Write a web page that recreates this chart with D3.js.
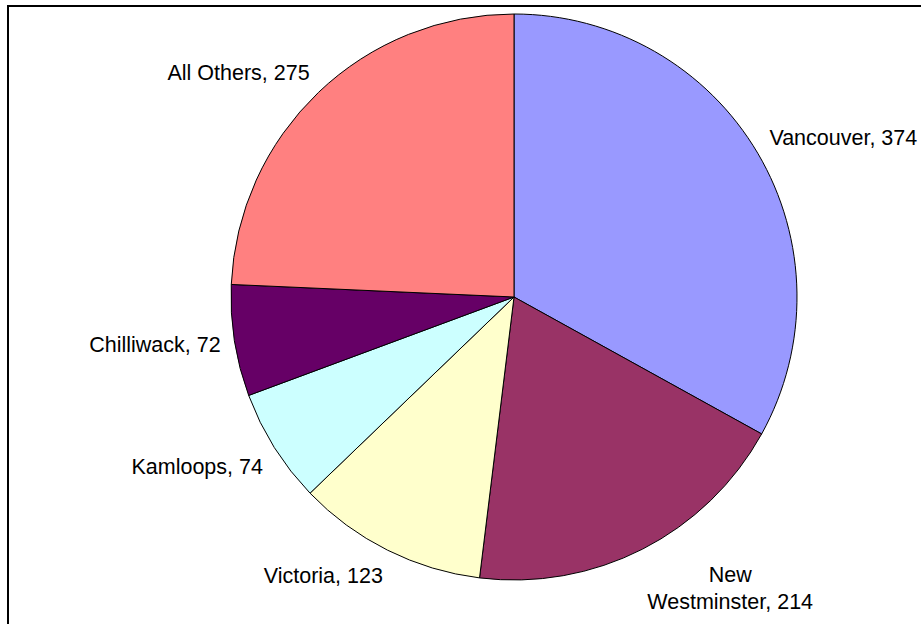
<!DOCTYPE html>
<html>
<head>
<meta charset="utf-8">
<script src="https://cdn.jsdelivr.net/npm/d3@7"></script>
<style>
  html, body { margin: 0; padding: 0; background: #fff; }
  svg { display: block; }
</style>
</head>
<body>
<script>
const categories = ["Vancouver", "New Westminster", "Victoria", "Kamloops", "Chilliwack", "All Others"];
const values = [374, 214, 123, 74, 72, 275];
const colors = ["#9999FF", "#993366", "#FFFFCC", "#CCFFFF", "#660066", "#FF8080"];

const W = 921, H = 624;
const cx = 514, cy = 297, radius = 283, labelRadius = 300;
const fontSize = 21.5, lineHeight = 27.7, wrapWidth = 160;

const svg = d3.select("body").append("svg").attr("width", W).attr("height", H);

// outer frame (extends beyond the right and bottom edges)
svg.append("rect")
  .attr("x", 8).attr("y", 6).attr("width", W).attr("height", H)
  .attr("fill", "none").attr("stroke", "#000").attr("stroke-width", 2);

const data = categories.map((c, i) => ({ name: c, value: values[i], color: colors[i] }));
const pie = d3.pie().value(d => d.value).sort(null);
const arcs = pie(data);
const arc = d3.arc().innerRadius(0).outerRadius(radius);

const g = svg.append("g").attr("transform", `translate(${cx},${cy})`);
g.selectAll("path").data(arcs).join("path")
  .attr("d", arc)
  .attr("fill", d => d.data.color)
  .attr("stroke", "#000")
  .attr("stroke-width", 1)
  .attr("stroke-linejoin", "round");

// labels
const measure = svg.append("text").attr("font-family", "'Liberation Sans', Arial, sans-serif")
  .attr("font-size", fontSize).attr("visibility", "hidden");
function textWidth(s) { measure.text(s); return measure.node().getComputedTextLength(); }

const capAscent = fontSize * 0.716;
const pad = 3;
arcs.forEach(a => {
  const full = `${a.data.name}, ${a.data.value}`;
  let lines = [full];
  if (textWidth(full) > wrapWidth) {
    const idx = full.indexOf(" ");
    lines = [full.slice(0, idx), full.slice(idx + 1)];
  }
  const boxW = d3.max(lines, l => textWidth(l));
  const boxH = capAscent + (lines.length - 1) * lineHeight + 3;
  const mid = (a.startAngle + a.endAngle) / 2;
  const s = Math.sin(mid), c = Math.cos(mid);
  const ax = cx + labelRadius * s, ay = cy - labelRadius * c;
  let left;
  if (s > 0.15) left = ax - pad;
  else if (s < -0.15) left = ax - boxW + pad;
  else left = ax - boxW / 2;
  let top;
  if (c > 0.3) top = ay - boxH + 1;
  else if (c < -0.3) top = ay;
  else top = ay - boxH / 2;
  const t = svg.append("text")
    .attr("font-family", "'Liberation Sans', Arial, sans-serif")
    .attr("font-size", fontSize)
    .attr("fill", "#000")
    .attr("text-anchor", "middle");
  lines.forEach((l, i) => {
    t.append("tspan")
      .attr("x", left + boxW / 2)
      .attr("y", top + 2 + capAscent + i * lineHeight)
      .text(l);
  });
});
measure.remove();
</script>
</body>
</html>
